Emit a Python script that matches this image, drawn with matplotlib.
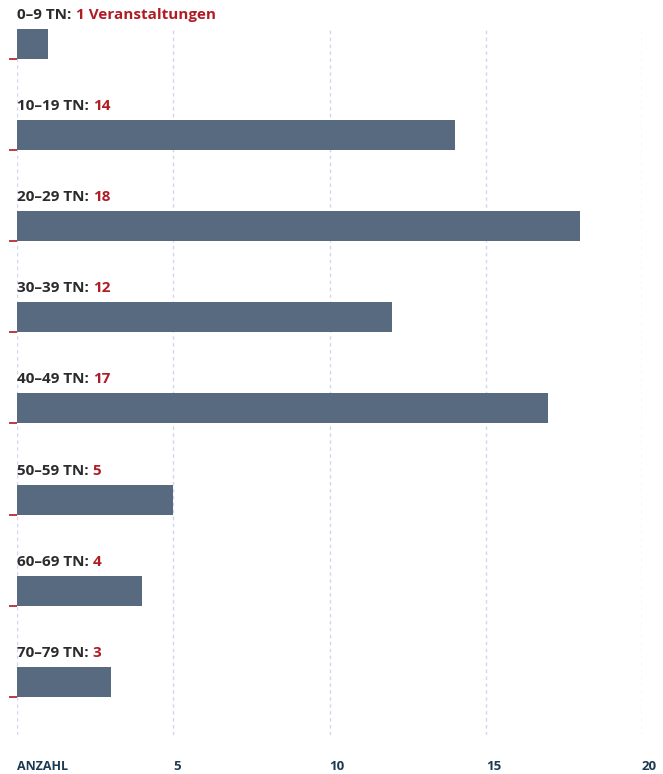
import matplotlib
matplotlib.use("Agg")
import matplotlib.pyplot as plt

categories = ["0–9 TN", "10–19 TN", "20–29 TN", "30–39 TN", "40–49 TN", "50–59 TN", "60–69 TN", "70–79 TN"]
values = [1, 14, 18, 12, 17, 5, 4, 3]
value_suffix = [" Veranstaltungen", "", "", "", "", "", "", ""]
xticks = [0, 5, 10, 15, 20]
xtick_labels = ["ANZAHL", "5", "10", "15", "20"]

BAR = "#586a80"
RED = "#b01c24"
DARK = "#2b2b2b"
NAVY = "#1c3a52"
GRID = "#cdd8ee"

plt.rcParams['font.family'] = ['Open Sans', 'DejaVu Sans']

W, H = 663, 774
fig = plt.figure(figsize=(W / 100, H / 100), dpi=100)
left, right = 17, 642
top, bottom = 29, 735
ax = fig.add_axes([left / W, 1 - bottom / H, (right - left) / W, (bottom - top) / H])

spacing = 91.1
bar_h = 30 / spacing
ypos = list(range(len(values)))
ax.barh(ypos, values, height=bar_h, color=BAR, zorder=3)
ax.set_xlim(0, 20)
ax.set_ylim((bottom - 44) / spacing, (top - 44) / spacing)

for x in xticks:
    ax.axvline(x, color=GRID, lw=1, ls=(0, (2.5, 2.5)), zorder=1)

for s in ax.spines.values():
    s.set_visible(False)

ax.set_yticks([y + bar_h / 2 for y in ypos])
ax.set_yticklabels([])
ax.tick_params(axis='y', length=6, width=1.2, color=RED, direction='out')

ax.set_xticks(xticks)
ax.set_xticklabels(xtick_labels)
ax.tick_params(axis='x', length=0, pad=18, labelsize=9.5, labelcolor=NAVY)
for lab in ax.get_xticklabels():
    lab.set_fontweight('bold')
    lab.set_horizontalalignment('left')
    if lab.get_text() == "ANZAHL":
        lab.set_fontsize(9)
        lab.set_fontstretch('expanded')

for y, cat, v, suf in zip(ypos, categories, values, value_suffix):
    t1 = ax.annotate(cat + ":", xy=(0, y - bar_h / 2), xytext=(0, 5),
                     textcoords='offset points', ha='left', va='bottom',
                     fontsize=11, fontweight='bold', color=DARK, annotation_clip=False)
    ax.annotate(f"{v}{suf}", xy=(1, 0), xycoords=t1, xytext=(3, 0),
                textcoords='offset points', ha='left', va='bottom',
                fontsize=11, fontweight='bold', color=RED)

fig.savefig("out.png", dpi=100)
